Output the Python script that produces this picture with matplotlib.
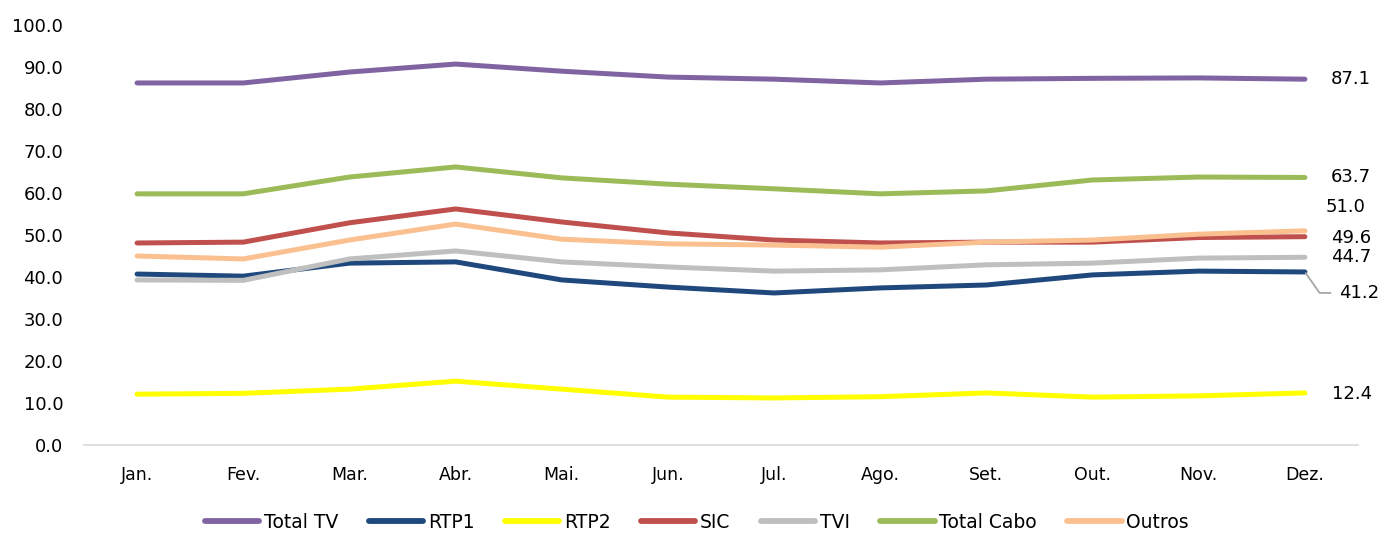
import matplotlib
matplotlib.use("Agg")
import matplotlib.pyplot as plt

months = ["Jan.", "Fev.", "Mar.", "Abr.", "Mai.", "Jun.", "Jul.", "Ago.", "Set.", "Out.", "Nov.", "Dez."]

total_tv   = [86.2, 86.2, 88.8, 90.7, 89.0, 87.6, 87.1, 86.2, 87.1, 87.3, 87.4, 87.1]
rtp1       = [40.7, 40.2, 43.3, 43.6, 39.3, 37.6, 36.2, 37.4, 38.1, 40.5, 41.4, 41.2]
rtp2       = [12.1, 12.3, 13.3, 15.2, 13.3, 11.4, 11.2, 11.5, 12.4, 11.4, 11.7, 12.4]
sic        = [48.1, 48.3, 52.9, 56.2, 53.1, 50.5, 48.8, 48.1, 48.3, 48.3, 49.4, 49.6]
tvi        = [39.3, 39.2, 44.3, 46.2, 43.6, 42.4, 41.4, 41.7, 42.9, 43.3, 44.5, 44.7]
total_cabo = [59.8, 59.8, 63.8, 66.2, 63.6, 62.1, 61.0, 59.8, 60.5, 63.1, 63.8, 63.7]
outros     = [45.0, 44.3, 48.8, 52.6, 49.0, 47.9, 47.6, 47.1, 48.3, 48.8, 50.2, 51.0]

series_names = ["Total TV", "RTP1", "RTP2", "SIC", "TVI", "Total Cabo", "Outros"]
series_values = [total_tv, rtp1, rtp2, sic, tvi, total_cabo, outros]
colors = ["#8064A2", "#1F497D", "#FFFF00", "#C0504D", "#BFBFBF", "#9BBB59", "#FAC090"]
end_labels = ["87.1", "41.2", "12.4", "49.6", "44.7", "63.7", "51.0"]
label_offsets = [(46, 0), (54, -21), (47, -1), (46, -1), (46, 0), (46, 0), (41, 24)]

plt.rcParams['font.family'] = ['DejaVu Sans']

fig = plt.figure(figsize=(13.8, 5.34), dpi=100)
ax = fig.add_axes([84/1380, 89/534, (1358-84)/1380, (509-89)/534])

x = list(range(len(months)))
for name, vals, c in zip(series_names, series_values, colors):
    ax.plot(x, vals, color=c, lw=3.6, solid_capstyle='round', solid_joinstyle='round', label=name)

for vals, lab, off, name in zip(series_values, end_labels, label_offsets, series_names):
    if name == "RTP1":
        ax.annotate(lab, xy=(x[-1], vals[-1]), xytext=off, textcoords='offset pixels',
                    ha='center', va='center', fontsize=13, color='#000000',
                    arrowprops=dict(arrowstyle='-', color='#A6A6A6', lw=1.3,
                                    connectionstyle='angle,angleA=0,angleB=-55',
                                    shrinkA=4, shrinkB=1))
    else:
        ax.annotate(lab, xy=(x[-1], vals[-1]), xytext=off, textcoords='offset pixels',
                    ha='center', va='center', fontsize=13, color='#000000')

ax.set_xlim(-0.5, len(months) - 0.5)
ax.set_ylim(0, 100)
ax.set_yticks([0, 10, 20, 30, 40, 50, 60, 70, 80, 90, 100])
ax.set_yticklabels([f"{v:.1f}" for v in [0, 10, 20, 30, 40, 50, 60, 70, 80, 90, 100]])
ax.set_xticks(x)
ax.set_xticklabels(months)
ax.tick_params(axis='y', length=0, pad=15, labelsize=13)
ax.tick_params(axis='x', length=0, pad=15, labelsize=12.5)
for s in ['top', 'right', 'left']:
    ax.spines[s].set_visible(False)
ax.spines['bottom'].set_color('#D9D9D9')
ax.spines['bottom'].set_linewidth(1.2)

leg = fig.legend(loc='center', bbox_to_anchor=(697/1380, 12/534), ncol=7, frameon=False,
                 fontsize=13.5, handlelength=2.9, handletextpad=0.25, columnspacing=1.62)
for h in leg.get_lines():
    h.set_linewidth(4.2)

fig.savefig("out.png", dpi=100)
